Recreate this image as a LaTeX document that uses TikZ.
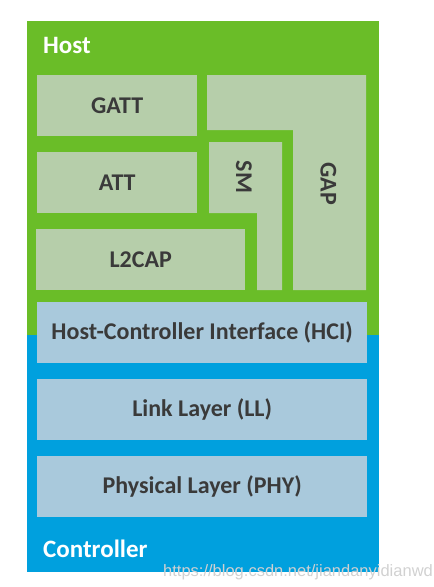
\documentclass[tikz,border=0pt]{standalone}
\usepackage{fontspec}
\setmainfont{Carlito}
\newfontfamily\wmfont{Liberation Sans}
\definecolor{hostgreen}{RGB}{106,189,40}
\definecolor{ctrlblue}{RGB}{0,160,222}
\definecolor{boxgreen}{RGB}{182,206,170}
\definecolor{boxblue}{RGB}{169,201,220}
\definecolor{txtdark}{RGB}{58,58,58}
\tikzset{
  lbl/.style={text=txtdark, font=\fontsize{24}{28}\selectfont\bfseries},
  gbox/.style={fill=boxgreen, inner sep=0pt, anchor=north west, lbl},
  bbox/.style={fill=boxblue, inner sep=0pt, anchor=north west, lbl},
  title/.style={text=white, font=\fontsize{25}{28}\selectfont\bfseries, anchor=base west, inner sep=0pt}
}
\begin{document}
\begin{tikzpicture}[x=1pt,y=-1pt]
\useasboundingbox (0,0) rectangle (434,587);
\fill[hostgreen] (27,21) rectangle (379,335);
\fill[ctrlblue] (27,335) rectangle (379,572);
\node[title] (host) at (43,53) {Host};
\node[title] (ctrl) at (43,557) {Controller};
\node[gbox, minimum width=160pt, minimum height=61pt] (gatt) at (37,75) {GATT};
\node[gbox, minimum width=160pt, minimum height=61pt] (att) at (37,152) {ATT};
\node[gbox, minimum width=209pt, minimum height=61pt] (l2cap) at (36,229) {L2CAP};
\fill[boxgreen] (207,75) -- (366,75) -- (366,290) -- (293,290) -- (293,130) -- (207,130) -- cycle;
\fill[boxgreen] (209,142) -- (282,142) -- (282,290) -- (257,290) -- (257,213) -- (209,213) -- cycle;
\node[lbl, rotate=-90] (sm) at (244,177) {SM};
\node[lbl, rotate=-90] (gap) at (328.5,184) {GAP};
\node[bbox, minimum width=330pt, minimum height=61pt] (hci) at (37,302) {Host-Controller Interface (HCI)};
\node[bbox, minimum width=330pt, minimum height=61pt] (ll) at (37,379) {Link Layer (LL)};
\node[bbox, minimum width=330pt, minimum height=61pt] (phy) at (37,456) {Physical Layer (PHY)};
\node[anchor=base west, inner sep=0pt, text=black!18, font=\wmfont\fontsize{16.5}{18}\selectfont] (wm) at (163,576) {https://blog.csdn.net/jiandanyidianwd};
\end{tikzpicture}
\end{document}
